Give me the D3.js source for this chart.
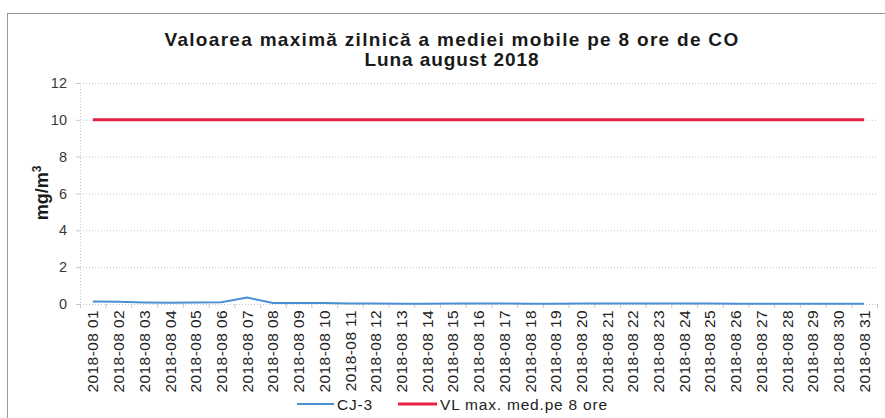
<!DOCTYPE html>
<html><head><meta charset="utf-8">
<script src="https://cdn.jsdelivr.net/npm/d3@7"></script>
<style>body{margin:0;background:#fff}svg{display:block;font-family:"Liberation Sans",Arial,sans-serif}</style>
</head><body><svg id="c" width="885" height="418"></svg>
<script>
const categories = d3.range(1,32).map(d => "2018-08 " + String(d).padStart(2,"0"));
const cj3 = [0.13,0.12,0.08,0.07,0.08,0.1,0.35,0.06,0.06,0.05,0.03,0.03,0.02,0.02,0.03,0.03,0.03,0.02,0.02,0.03,0.03,0.03,0.03,0.03,0.03,0.02,0.02,0.02,0.02,0.02,0.02];
const vl = categories.map(() => 10);
const yTicks = [0,2,4,6,8,10,12];
const titleLines = ["Valoarea maximă zilnică a mediei mobile pe 8 ore de CO","Luna august 2018"];
const seriesNames = ["CJ-3","VL max. med.pe 8 ore"];
const colors = ["#4a8fd4","#e8213f"];

const svg = d3.select("#c");
const L=80,R=877,T=83,B=304;
svg.append("rect").attr("x",7.5).attr("y",13.5).attr("width",890).attr("height",420).attr("fill","none").attr("stroke","#9a9a9a");

const x = d3.scaleBand().domain(categories).range([L,R]);
const y = d3.scaleLinear().domain([0,12]).range([B,T]);

svg.append("g").selectAll("line").data(yTicks).join("line")
  .attr("x1",L).attr("x2",R).attr("y1",d=>y(d)+0.5).attr("y2",d=>y(d)+0.5)
  .attr("stroke","#c8c8c8").attr("stroke-dasharray","1,2");
svg.append("line").attr("x1",L+0.5).attr("x2",L+0.5).attr("y1",T).attr("y2",B)
  .attr("stroke","#c8c8c8").attr("stroke-dasharray","1,2");

const ya = svg.append("g").attr("transform",`translate(${L},0)`)
  .call(d3.axisLeft(y).tickValues(yTicks).tickSize(4).tickPadding(9));
ya.select(".domain").remove();
ya.selectAll(".tick line").attr("stroke","#c8c8c8");
ya.selectAll("text").attr("font-size",14.5).attr("fill","#3a3a3a").attr("font-family","Liberation Sans, Arial");

const xa = svg.append("g").attr("transform",`translate(0,${B})`)
  .call(d3.axisBottom(x).tickSize(0).tickPadding(6));
xa.select(".domain").remove();
xa.selectAll(".tick text").attr("transform","rotate(-90)").attr("text-anchor","end")
  .attr("x",-6).attr("y",0).attr("dy","0.36em").attr("font-size",15.5).attr("letter-spacing",0.4)
  .attr("fill","#222").attr("font-family","Liberation Sans, Arial");
svg.append("g").selectAll("line").data(categories.concat(["end"])).join("line")
  .attr("x1",(d,i)=>L+i*x.step()+0.5).attr("x2",(d,i)=>L+i*x.step()+0.5)
  .attr("y1",B).attr("y2",B+4).attr("stroke","#c8c8c8");

const line = d3.line().x((d,i)=>x(categories[i])+x.bandwidth()/2).y(d=>y(d));
svg.append("path").datum(vl).attr("d",line).attr("fill","none").attr("stroke",colors[1]).attr("stroke-width",3);
svg.append("path").datum(cj3).attr("d",line).attr("fill","none").attr("stroke",colors[0]).attr("stroke-width",2);

svg.append("g").selectAll("text").data(titleLines).join("text")
  .attr("x",452).attr("y",(d,i)=>46+i*20).attr("text-anchor","middle")
  .attr("font-size",19).attr("letter-spacing",(d,i)=>i?0.9:1.3).attr("font-weight","bold").attr("fill","#1a1a1a").text(d=>d);

const yl = svg.append("text").attr("transform","translate(48,193) rotate(-90)").attr("text-anchor","middle")
  .attr("font-size",18).attr("font-weight","bold").attr("fill","#1a1a1a");
yl.append("tspan").text("mg/m");
yl.append("tspan").attr("font-size",12).attr("dy",-7).text("3");

const lg = [{x1:297,x2:334,tx:337},{x1:398,x2:437,tx:440}];
lg.forEach((p,i)=>{
  svg.append("line").attr("x1",p.x1).attr("x2",p.x2).attr("y1",404).attr("y2",404)
    .attr("stroke",colors[i]).attr("stroke-width",i?3:2);
  svg.append("text").attr("x",p.tx).attr("y",410).attr("font-size",15.5).attr("letter-spacing",0.8).attr("fill","#222").text(seriesNames[i]);
});
</script></body></html>
